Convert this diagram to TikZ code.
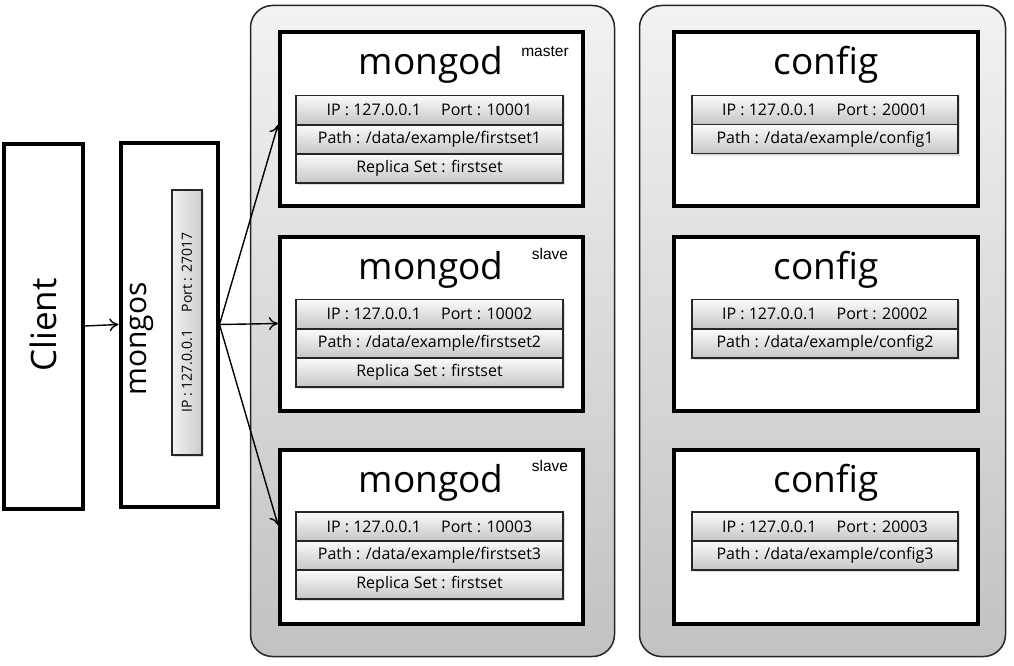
\documentclass[tikz,border=0pt]{standalone}
\usepackage{fontspec}
\setmainfont{Open Sans}
\newfontfamily\rolefont{Liberation Sans}
\usetikzlibrary{shadows,arrows.meta,calc}
\begin{document}
\begin{tikzpicture}[x=1pt,y=-1pt,
  container/.style={draw=black!85, line width=1.5pt, rounded corners=22pt, top color=gray!10, bottom color=gray!48, inner sep=0pt},
  bigbox/.style={draw=black, line width=4pt, fill=white, inner sep=0pt},
  field/.style={draw=black!85, line width=1.3pt, top color=gray!3, bottom color=gray!45, inner sep=0pt, minimum width=267pt, minimum height=29pt, font=\fontsize{16}{18}\selectfont, drop shadow={opacity=0.25, shadow xshift=2pt, shadow yshift=-2pt}},
  title/.style={font=\fontsize{37}{40}\selectfont, inner sep=0pt},
  role/.style={font=\rolefont\fontsize{15.5}{17}\selectfont, inner sep=0pt},
  conn/.style={line width=1.4pt, -{To[length=9pt,width=13pt]}}
]
\useasboundingbox (0,0) rectangle (1014,666);
% containers
\node[container, minimum width=364pt, minimum height=651pt] (c1) at (432.5,331) {};
\node[container, minimum width=366pt, minimum height=651pt] (c2) at (822.5,331) {};
% client and mongos
\node[bigbox, minimum width=79pt, minimum height=365pt] (client) at (43,326) {};
\node[rotate=90, title, font=\fontsize{35}{40}\selectfont] (clientt) at (43,325) {Client};
\node[bigbox, minimum width=97pt, minimum height=364pt] (mongos) at (169,324.5) {};
\node[rotate=90, title, font=\fontsize{30}{34}\selectfont] (mongost) at (142,339) {mongos};
\node[rotate=90, field, minimum width=265pt, minimum height=30pt, left color=gray!10, right color=gray!40, font=\fontsize{14}{16}\selectfont] (mf) at (187,322.5) {IP : 127.0.0.1\quad\ Port : 27017};
% mongod boxes
\foreach \i/\cy in {1/119,2/323.5,3/536.5}{
  \node[bigbox, minimum width=303pt, minimum height=174pt] (m\i) at (431.5,\cy) {};
  \node[title] (mt\i) at (431,\cy-54) {mongod};
}
\node[role] (r1) at (545,52) {master};
\node[role] (r2) at (550,254) {slave};
\node[role] (r3) at (550,466) {slave};
% mongod fields
\node[field] (m1a) at (429.5,110) {IP : 127.0.0.1\quad\ Port : 10001};
\node[field] (m1b) at (429.5,139.5) {Path : /data/example/firstset1};
\node[field] (m1c) at (429.5,168.5) {Replica Set : firstset};
\node[field] (m2a) at (429.5,314) {IP : 127.0.0.1\quad\ Port : 10002};
\node[field] (m2b) at (429.5,343.5) {Path : /data/example/firstset2};
\node[field] (m2c) at (429.5,372.5) {Replica Set : firstset};
\node[field] (m3a) at (429.5,526.5) {IP : 127.0.0.1\quad\ Port : 10003};
\node[field] (m3b) at (429.5,555.5) {Path : /data/example/firstset3};
\node[field] (m3c) at (429.5,584.5) {Replica Set : firstset};
% config boxes
\foreach \i/\cy in {1/119,2/323.5,3/536.5}{
  \node[bigbox, minimum width=304pt, minimum height=174pt] (g\i) at (826,\cy) {};
  \node[title] (gt\i) at (826,\cy-54) {config};
}
\node[field, minimum width=266pt] (g1a) at (825,110) {IP : 127.0.0.1\quad\ Port : 20001};
\node[field, minimum width=266pt] (g1b) at (825,139) {Path : /data/example/config1};
\node[field, minimum width=266pt] (g2a) at (825,314) {IP : 127.0.0.1\quad\ Port : 20002};
\node[field, minimum width=266pt] (g2b) at (825,343.5) {Path : /data/example/config2};
\node[field, minimum width=266pt] (g3a) at (825,526.5) {IP : 127.0.0.1\quad\ Port : 20003};
\node[field, minimum width=266pt] (g3b) at (825,555.5) {Path : /data/example/config3};
% connectors
\draw[conn] (client.east) -- (mongos.west);
\draw[conn] (mongos.east) -- ([yshift=-6pt]m1.west);
\draw[conn] (mongos.east) -- (m2.west);
\draw[conn] (mongos.east) -- ([yshift=11.5pt]m3.west);
\end{tikzpicture}
\end{document}
